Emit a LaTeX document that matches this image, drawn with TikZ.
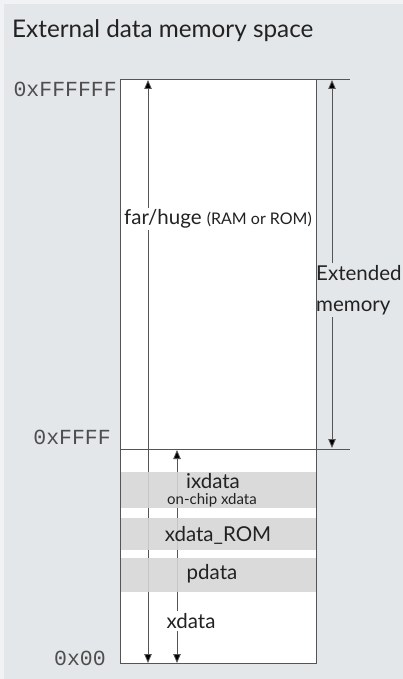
\documentclass[tikz,border=0pt]{standalone}
\usepackage{fontspec}
\setmainfont{Lato}
\setmonofont{Liberation Mono}
\usetikzlibrary{arrows.meta}
\definecolor{bgcol}{HTML}{E4E7EA}
\definecolor{outercol}{HTML}{F1F2F3}
\definecolor{bandcol}{HTML}{D6D6D6}
\definecolor{linecol}{HTML}{555555}
\definecolor{txtcol}{HTML}{222222}
\tikzset{
  addr/.style={font=\ttfamily\fontsize{21.5}{22}\selectfont, text=txtcol!80, anchor=east, inner sep=0pt},
  lbl/.style={font=\fontsize{20.5}{22}\selectfont, text=txtcol, inner sep=1pt},
  band/.style={fill=bandcol, fill opacity=0.88, draw=none},
  dimarrow/.style={draw=linecol, line width=0.8pt, -{Triangle[length=9pt,width=7.5pt,fill=black]}},
  border/.style={draw=linecol, line width=0.9pt},
}
\begin{document}
\begin{tikzpicture}[x=1pt,y=-1pt]
\useasboundingbox (0,0) rectangle (403,679);
\fill[outercol] (0,0) rectangle (403,679);
\fill[bgcol] (4,4) rectangle (403,679);
% title
\node[font=\fontsize{24.3}{26}\selectfont, text=txtcol, anchor=base west, inner sep=0pt] (title) at (12,38) {External data memory space};
% memory block
\fill[white] (120,79) rectangle (316,663);
\coordinate (tl) at (120,79);
\coordinate (br) at (316,663);
\coordinate (ffL) at (120,449);
\coordinate (ffR) at (350,449);
\coordinate (topR) at (350,79);
% arrows (drawn before bands)
\coordinate (farTop) at (148,80);
\coordinate (farBot) at (148,663);
\draw[dimarrow] (148,300) -- (farTop);
\draw[dimarrow] (148,300) -- (farBot);
\coordinate (xdTop) at (177,450);
\coordinate (xdBot) at (177,663);
\draw[dimarrow] (177,560) -- (xdTop);
\draw[dimarrow] (177,560) -- (xdBot);
% bands
\path[band] (120,472) rectangle (316,508);
\path[band] (120,518) rectangle (316,550);
\path[band] (120,558) rectangle (316,592);
% border lines
\draw[border] (tl) rectangle (br);
\draw[border] (tl) -- (topR);
\draw[border] (ffL) -- (ffR);
% labels
\node[lbl, fill=white, inner sep=2pt] (far) at (218,219) {far/huge {\fontsize{16}{18}\selectfont (RAM or ROM)}};
\node[lbl] (ix) at (213,481) {ixdata};
\node[lbl, font=\fontsize{15}{17}\selectfont] (onchip) at (212,500) {on-chip xdata};
\node[lbl] (rom) at (218,535) {xdata\_ROM};
\node[lbl] (pd) at (212,574) {pdata};
\node[lbl, fill=white, inner sep=2pt] (xd) at (191,621) {xdata};
% extended memory
\node[lbl, font=\fontsize{20.5}{31}\selectfont, align=left, anchor=west, inner sep=0pt] (ext) at (316,290) {Extended\\memory};
\coordinate (extTop) at (332,80);
\coordinate (extBot) at (332,448);
\draw[dimarrow] (332,263) -- (extTop);
\draw[dimarrow] (332,317) -- (extBot);
% addresses
\node[addr] (a1) at (117,89) {0xFFFFFF};
\node[addr] (a2) at (111,437) {0xFFFF};
\node[addr] (a3) at (106,658) {0x00};
\end{tikzpicture}
\end{document}
